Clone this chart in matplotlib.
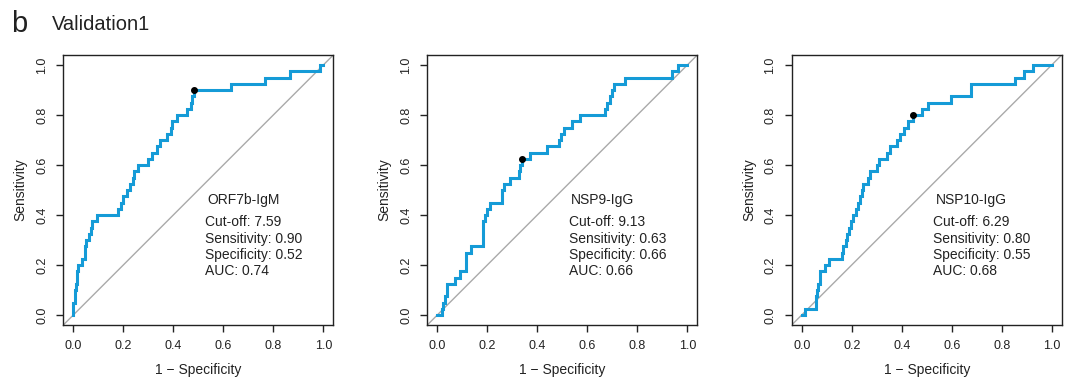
import numpy as np
import matplotlib
matplotlib.use("Agg")
import matplotlib.pyplot as plt

plt.rcParams['font.family'] = ['Liberation Sans', 'DejaVu Sans']

# ROC staircases: x = 1 - specificity where the curve rises,
# y = sensitivity reached after that rise
orf7b_fpr = [0, 0.0, 0.005, 0.01, 0.013, 0.02, 0.033, 0.047, 0.052, 0.063, 0.07, 0.076, 0.093,
             0.18, 0.19, 0.2, 0.213, 0.228, 0.24, 0.244, 0.26, 0.3, 0.316, 0.333, 0.347, 0.375,
             0.39, 0.393, 0.413, 0.455, 0.47, 0.476, 0.483, 0.629, 0.767, 0.867, 0.987, 1.0]
orf7b_tpr = [0, 0.05, 0.1, 0.125, 0.175, 0.2, 0.225, 0.275, 0.3, 0.325, 0.35, 0.375, 0.4,
             0.425, 0.45, 0.475, 0.5, 0.525, 0.55, 0.575, 0.6, 0.625, 0.65, 0.675, 0.7, 0.725,
             0.75, 0.775, 0.8, 0.825, 0.85, 0.875, 0.9, 0.925, 0.95, 0.975, 1.0, 1.0]

nsp9_fpr = [0, 0.017, 0.024, 0.031, 0.037, 0.072, 0.089, 0.116, 0.135, 0.181, 0.184, 0.192,
            0.198, 0.211, 0.259, 0.266, 0.29, 0.326, 0.332, 0.339, 0.371, 0.44, 0.486, 0.495,
            0.507, 0.537, 0.571, 0.671, 0.68, 0.69, 0.7, 0.706, 0.751, 0.937, 0.964, 1.0]
nsp9_tpr = [0, 0.025, 0.05, 0.075, 0.125, 0.15, 0.175, 0.25, 0.275, 0.35, 0.375, 0.4,
            0.425, 0.45, 0.5, 0.525, 0.55, 0.575, 0.6, 0.625, 0.65, 0.675, 0.7, 0.725,
            0.75, 0.775, 0.8, 0.825, 0.85, 0.875, 0.9, 0.925, 0.95, 0.975, 1.0, 1.0]

nsp10_fpr = [0, 0.013, 0.057, 0.06, 0.064, 0.073, 0.093, 0.111, 0.16, 0.167, 0.177, 0.183,
             0.19, 0.196, 0.207, 0.217, 0.225, 0.233, 0.24, 0.247, 0.267, 0.275, 0.3, 0.311,
             0.34, 0.353, 0.38, 0.393, 0.409, 0.425, 0.447, 0.48, 0.507, 0.596, 0.676, 0.853,
             0.889, 0.924, 1.0]
nsp10_tpr = [0, 0.025, 0.075, 0.1, 0.125, 0.175, 0.2, 0.225, 0.25, 0.275, 0.3, 0.325,
             0.35, 0.375, 0.4, 0.425, 0.45, 0.475, 0.5, 0.525, 0.55, 0.575, 0.6, 0.625,
             0.65, 0.675, 0.7, 0.725, 0.75, 0.775, 0.8, 0.825, 0.85, 0.875, 0.925, 0.95,
             0.975, 1.0, 1.0]

markers = ['ORF7b-IgM', 'NSP9-IgG', 'NSP10-IgG']
cutoffs = ['7.59', '9.13', '6.29']
sens = ['0.90', '0.63', '0.80']
spec = ['0.52', '0.66', '0.55']
aucs = ['0.74', '0.66', '0.68']
curves = [(orf7b_fpr, orf7b_tpr), (nsp9_fpr, nsp9_tpr), (nsp10_fpr, nsp10_tpr)]
best_pts = [(0.483, 0.9), (0.339, 0.625), (0.447, 0.8)]

W, H = 1065, 378
fig = plt.figure(figsize=(W / 100, H / 100), dpi=100)

lefts = [63.3, 427.3, 791.7]
ticks = [0, 0.2, 0.4, 0.6, 0.8, 1.0]
tick_labels = ['0.0', '0.2', '0.4', '0.6', '0.8', '1.0']
for i in range(3):
    ax = fig.add_axes([lefts[i] / W, (H - 325) / H, 270 / W, 270 / H])
    ax.set_xlim(-0.04, 1.04)
    ax.set_ylim(-0.04, 1.04)
    ax.plot([-0.04, 1.04], [-0.04, 1.04], color='#aaaaaa', lw=1.0, zorder=1)
    fx, ty = curves[i]
    ax.plot(fx, ty, color='#159bd7', lw=2.2, zorder=2, drawstyle='steps-post',
            solid_joinstyle='miter')
    ax.plot(*best_pts[i], 'o', color='black', ms=4, zorder=3)

    ax.text(0.535, 0.46, markers[i], fontsize=10, va='center', ha='left', color='#222222')
    lines = ['Cut-off: ' + cutoffs[i],
             'Sensitivity: ' + sens[i],
             'Specificity: ' + spec[i],
             'AUC: ' + aucs[i]]
    for j, s in enumerate(lines):
        ax.text(0.527, 0.37 - j * 0.065, s, fontsize=10, va='center', ha='left', color='#222222')

    ax.set_xticks(ticks)
    ax.set_yticks(ticks)
    ax.set_xticklabels(tick_labels, fontsize=9)
    ax.set_yticklabels(tick_labels, fontsize=9, rotation=90, va='center')
    ax.tick_params(direction='out', length=5, width=1, color='#222222', labelcolor='#222222', pad=6)
    for sp in ax.spines.values():
        sp.set_linewidth(1.0)
        sp.set_color('#222222')
    ax.set_xlabel('1 \u2212 Specificity', fontsize=10, color='#222222', labelpad=8)
    ax.set_ylabel('Sensitivity', fontsize=10, color='#222222', labelpad=6)

fig.text(11 / W, 1 - 24 / H, 'b', fontsize=21, va='center', ha='left', color='#222222')
fig.text(52 / W, 1 - 24 / H, 'Validation1', fontsize=14.5, va='center', ha='left', color='#222222')

fig.savefig('out.png', dpi=100)
